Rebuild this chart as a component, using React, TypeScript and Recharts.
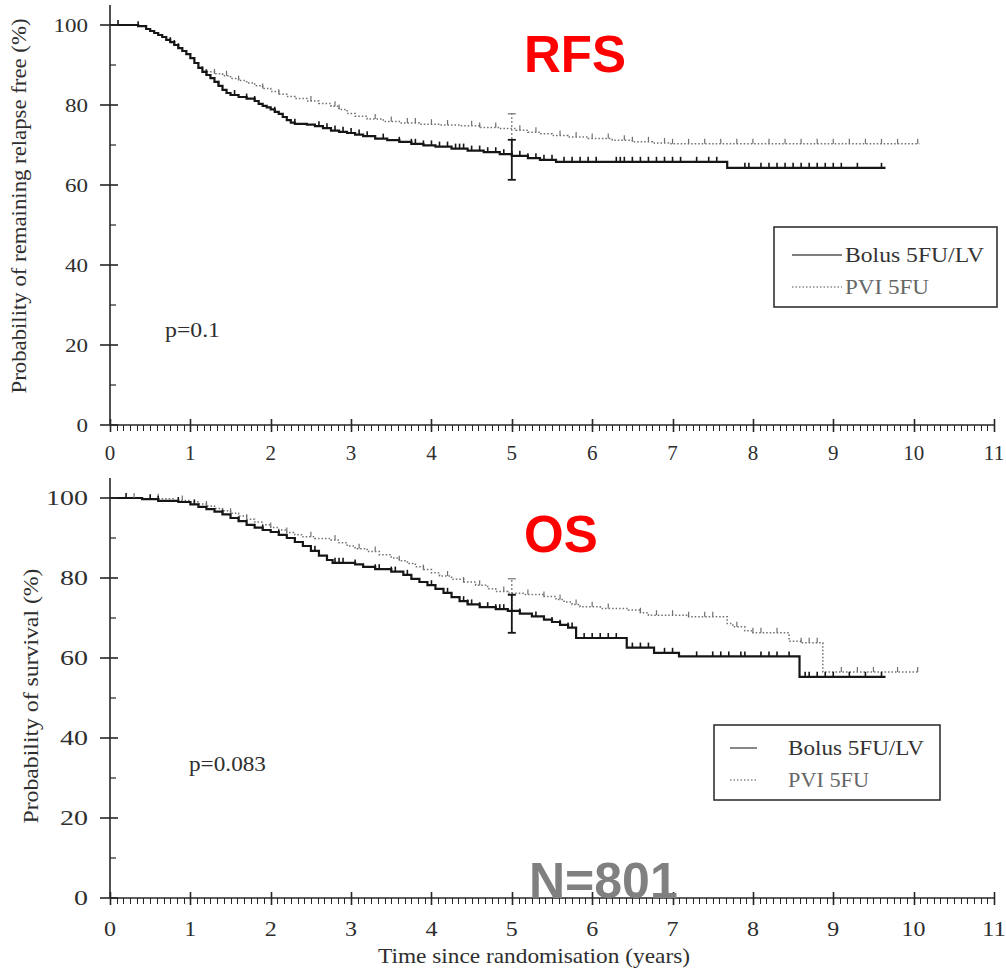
import React from 'react';
import { ComposedChart, Line, Scatter, XAxis, YAxis, ReferenceLine, Legend } from 'recharts';

// ---------- axis ticks ----------
const yearTicks = [0, 1, 2, 3, 4, 5, 6, 7, 8, 9, 10, 11];
const yMajorTicks = [0, 20, 40, 60, 80, 100];
const yMinorTicks = [10, 30, 50, 70, 90];
const monthsPerYear = 12;
const seriesNames = ['Bolus 5FU/LV', 'PVI 5FU'];

// ---------- RFS (relapse free survival) ----------
const rfsBolusT = [0, 0.35, 0.45, 0.5, 0.55, 0.6, 0.65, 0.7, 0.75, 0.8, 0.85, 0.9, 0.95, 1.0, 1.05, 1.1, 1.15, 1.2, 1.25, 1.3, 1.35, 1.4, 1.45, 1.5, 1.6, 1.7, 1.8, 1.85, 1.9, 1.95, 2.0, 2.05, 2.1, 2.15, 2.2, 2.25, 2.3, 2.45, 2.55, 2.65, 2.75, 2.85, 2.95, 3.05, 3.15, 3.3, 3.45, 3.6, 3.75, 3.9, 4.05, 4.25, 4.45, 4.65, 4.85, 5.0, 5.2, 5.35, 5.55, 7.68, 9.65];
const rfsBolusS = [100, 99.7, 99, 98.5, 98, 97.5, 97, 96.3, 95.7, 95, 94.2, 93.5, 92.7, 91.7, 90.5, 89.3, 88.3, 87.5, 86.7, 85.8, 84.8, 83.8, 83, 82.5, 82, 81.6, 81, 80.3, 79.8, 79.4, 78.9, 78.3, 77.8, 77, 76.2, 75.6, 75.3, 75.1, 74.7, 74.2, 73.6, 73.3, 73, 72.6, 72.2, 71.6, 71.2, 70.8, 70.3, 69.9, 69.6, 69.1, 68.6, 68.2, 67.7, 67.3, 66.7, 66.3, 65.8, 64.3, 64.3];
const rfsPviT = [0, 0.35, 0.45, 0.5, 0.55, 0.6, 0.65, 0.7, 0.75, 0.8, 0.85, 0.9, 0.95, 1.0, 1.05, 1.1, 1.15, 1.2, 1.3, 1.4, 1.5, 1.6, 1.7, 1.8, 1.9, 2.0, 2.1, 2.2, 2.3, 2.45, 2.6, 2.75, 2.85, 2.95, 3.05, 3.2, 3.4, 3.6, 3.85, 4.1, 4.35, 4.6, 4.85, 5.05, 5.2, 5.35, 5.5, 5.7, 5.95, 6.25, 6.5, 6.75, 6.95, 10.07];
const rfsPviS = [100, 99.7, 99, 98.5, 98, 97.5, 97, 96.3, 95.7, 95, 94.2, 93.5, 92.7, 91.7, 90.5, 89.5, 88.8, 88.3, 87.8, 87.3, 86.6, 86.1, 85.5, 84.8, 84.1, 83.4, 82.7, 82.1, 81.6, 81, 80.4, 79.7, 78.9, 77.9, 77.2, 76.5, 75.9, 75.5, 75.2, 75, 74.8, 74.4, 74.1, 73.7, 73.2, 72.8, 72.4, 72, 71.6, 71.2, 70.8, 70.5, 70.3, 70.3];
const rfsBolusCensor = [0.1, 0.35, 0.75, 0.8, 0.85, 1.2, 1.35, 1.55, 1.7, 1.8, 2.05, 2.3, 2.6, 2.7, 2.8, 2.9, 3.0, 3.1, 3.2, 3.4, 3.6, 3.75, 3.8, 3.9, 4.0, 4.1, 4.2, 4.3, 4.35, 4.4, 4.5, 4.6, 4.7, 4.8, 4.9, 5.0, 5.1, 5.2, 5.3, 5.4, 5.5, 5.65, 5.75, 5.85, 5.95, 6.05, 6.3, 6.35, 6.4, 6.5, 6.6, 6.7, 6.8, 6.9, 7.0, 7.1, 7.3, 7.45, 7.55, 7.9, 7.95, 8.1, 8.2, 8.3, 8.4, 8.5, 8.6, 8.7, 8.8, 8.9, 9.0, 9.1, 9.3, 9.6];
const rfsPviCensor = [1.3, 1.45, 1.6, 1.9, 2.1, 2.5, 2.8, 2.85, 3.3, 3.5, 3.7, 3.8, 4.0, 4.2, 4.5, 4.6, 4.8, 5.1, 5.3, 5.6, 5.8, 6.0, 6.2, 6.4, 6.5, 6.7, 6.9, 7.0, 7.2, 7.4, 7.6, 7.8, 8.0, 8.2, 8.4, 8.6, 8.8, 9.0, 9.2, 9.4, 9.6, 9.8, 10.05];
const rfsBolusCI = [61.3, 71.3];
const rfsPviCI = [69.5, 77.8];

// ---------- OS (overall survival) ----------
const osBolusT = [0, 0.4, 0.6, 0.85, 1.0, 1.1, 1.2, 1.3, 1.4, 1.5, 1.6, 1.7, 1.8, 1.9, 2.0, 2.1, 2.2, 2.3, 2.4, 2.5, 2.6, 2.7, 2.77, 3.05, 3.15, 3.3, 3.5, 3.65, 3.75, 3.85, 3.95, 4.05, 4.15, 4.25, 4.35, 4.45, 4.6, 4.8, 4.95, 5.1, 5.25, 5.4, 5.5, 5.6, 5.7, 5.8, 6.43, 6.77, 7.08, 8.58, 9.65];
const osBolusS = [100, 99.7, 99.3, 99, 98.4, 97.8, 97.2, 96.6, 95.9, 95, 94.2, 93.3, 92.6, 92, 91.5, 90.8, 90, 89, 88, 86.8, 85.6, 84.5, 83.8, 83.4, 82.8, 82.2, 81.6, 80.8, 79.8, 79, 78.2, 77.3, 76.3, 75.2, 74.2, 73.4, 72.7, 72.2, 71.8, 71.1, 70.4, 69.6, 69, 68.3, 67.6, 65, 62.6, 61.3, 60.4, 55.3, 55.3];
const osPviT = [0, 0.4, 0.8, 1.0, 1.1, 1.2, 1.3, 1.4, 1.5, 1.6, 1.7, 1.8, 1.9, 2.0, 2.1, 2.2, 2.3, 2.4, 2.55, 2.75, 2.85, 2.95, 3.05, 3.2, 3.35, 3.5, 3.6, 3.7, 3.8, 3.9, 4.0, 4.1, 4.25, 4.4, 4.55, 4.7, 4.8, 4.95, 5.15, 5.4, 5.55, 5.65, 5.75, 5.85, 6.1, 6.45, 6.6, 6.7, 7.2, 7.68, 7.75, 7.9, 8.0, 8.45, 8.6, 8.87, 10.07];
const osPviS = [100, 99.8, 99.4, 99, 98.5, 98, 97.4, 96.8, 96.2, 95.5, 94.7, 94, 93.3, 92.6, 92, 91.4, 90.8, 90.3, 89.9, 89.5, 88.8, 88, 87.3, 86.6, 85.8, 85, 84.3, 83.6, 82.8, 82.1, 81.3, 80.5, 79.7, 79, 78.2, 77.3, 76.6, 76.2, 75.9, 75.4, 74.6, 74, 73.4, 72.8, 72.4, 72, 71.3, 70.7, 70.3, 68.6, 67.8, 66.8, 66.3, 64.2, 63.8, 56.5, 56.5];
const osBolusCensor = [0.2, 0.5, 0.6, 0.85, 1.05, 1.4, 1.6, 1.9, 2.1, 2.3, 2.55, 2.8, 2.85, 2.9, 3.05, 3.3, 3.35, 3.5, 3.55, 3.7, 4.0, 4.2, 4.4, 4.45, 4.5, 4.6, 4.7, 4.8, 4.85, 4.9, 5.1, 5.3, 5.5, 5.6, 5.7, 5.75, 5.9, 6.0, 6.1, 6.2, 6.3, 6.5, 6.6, 6.7, 6.9, 7.0, 7.3, 7.5, 7.6, 7.7, 7.85, 7.9, 8.1, 8.2, 8.3, 8.45, 8.65, 8.7, 8.8, 8.9, 9.0, 9.2, 9.4, 9.6];
const osPviCensor = [0.3, 0.6, 0.9, 1.2, 1.5, 1.7, 2.0, 2.2, 2.5, 2.8, 3.1, 3.3, 3.6, 3.9, 4.2, 4.4, 4.6, 4.9, 5.2, 5.4, 5.6, 5.8, 6.0, 6.2, 6.6, 6.8, 7.0, 7.2, 7.4, 7.5, 7.8, 8.0, 8.1, 8.3, 8.6, 8.7, 8.8, 9.1, 9.3, 9.5, 9.8, 10.05];
const osBolusCI = [66.3, 75.8];
const osPviCI = [72.0, 79.8];

const ciTime = 5;

// ---------- helpers ----------
const toSteps = (t: number[], s: number[]) => t.map((x, i) => ({ t: x, s: s[i] }));
const stepValue = (t: number[], s: number[], x: number) => {
  let v = s[0];
  for (let i = 0; i < t.length; i++) if (t[i] <= x) v = s[i];
  return v;
};
const censorPoints = (times: number[], t: number[], s: number[]) => times.map((x) => ({ t: x, s: stepValue(t, s, x) }));

const xTicks: number[] = [];
yearTicks.forEach((y, i) => {
  xTicks.push(y);
  if (i < yearTicks.length - 1) for (let m = 1; m < monthsPerYear; m++) xTicks.push(y + m / monthsPerYear);
});
const yTicks = [...yMajorTicks, ...yMinorTicks].sort((a, b) => a - b);

const AXIS = '#262626';
const TEXT = '#2e2e2e';
const BOLUS = '#161616';
const PVI = '#707070';
const SERIF = 'Liberation Serif, Times New Roman, Times, serif';
const SANS = 'Liberation Sans, Arial, Helvetica, sans-serif';

type TickStyle = { xFont: number; xDy: number; xCharW: number; yFont: number; yCharW: number };

const XTick = (props: any) => {
  const { x, y, payload, st } = props;
  const v = payload.value;
  const major = Math.abs(v - Math.round(v)) < 1e-6;
  const cx = Math.round(x) + 0.5;
  if (!major) return <line x1={cx} x2={cx} y1={y} y2={y + 6} stroke={AXIS} strokeWidth={1} />;
  const label = String(Math.round(v));
  return (
    <g>
      <line x1={cx} x2={cx} y1={y - 6} y2={y + 7} stroke={AXIS} strokeWidth={1.6} />
      <text x={x} y={y + st.xDy} textAnchor="middle" fontFamily={SERIF} fontSize={st.xFont} fill={TEXT}
        textLength={label.length * st.xCharW} lengthAdjust="spacingAndGlyphs">{label}</text>
    </g>
  );
};

const YTick = (props: any) => {
  const { x, y, payload, st } = props;
  const v = payload.value;
  const major = v % 20 === 0;
  if (!major) return <line x1={x} x2={x + 6} y1={y} y2={y} stroke={AXIS} strokeWidth={1.2} />;
  const label = String(v);
  return (
    <g>
      <line x1={x - 10} x2={x + 8} y1={y} y2={y} stroke={AXIS} strokeWidth={1.6} />
      <text x={x - 22} y={y + 7} textAnchor="end" fontFamily={SERIF} fontSize={st.yFont} fill={TEXT}
        textLength={label.length * st.yCharW} lengthAdjust="spacingAndGlyphs">{label}</text>
    </g>
  );
};

const CensorTick = (color: string, w: number) => (props: any) => {
  const { cx, cy } = props;
  return <line x1={cx} x2={cx} y1={cy} y2={cy - 5} stroke={color} strokeWidth={w} />;
};

type LegendGeom = {
  left: number; top: number; w: number; h: number;
  lineX1: number; lineX2: number; textX: number;
  y1: number; y2: number; len1: number; len2: number; font: number;
};

const LegendBox = ({ g }: { g: LegendGeom }) => (
  <svg width={g.w} height={g.h} style={{ display: 'block' }}>
    <rect x={1} y={1} width={g.w - 2} height={g.h - 2} fill="#fff" stroke="#333" strokeWidth={1.6} />
    <line x1={g.lineX1} x2={g.lineX2} y1={g.y1} y2={g.y1} stroke="#555" strokeWidth={1.4} />
    <text x={g.textX} y={g.y1 + 7} fontFamily={SERIF} fontSize={g.font} fill="#333"
      textLength={g.len1} lengthAdjust="spacingAndGlyphs">{seriesNames[0]}</text>
    <line x1={g.lineX1} x2={g.lineX2} y1={g.y2} y2={g.y2} stroke="#888" strokeWidth={1.3} strokeDasharray="1.5 2" />
    <text x={g.textX} y={g.y2 + 7} fontFamily={SERIF} fontSize={g.font} fill="#666"
      textLength={g.len2} lengthAdjust="spacingAndGlyphs">{seriesNames[1]}</text>
  </svg>
);

type PanelProps = {
  top: number; height: number; marginTop: number; marginBottom: number; xAxisHeight: number;
  bT: number[]; bS: number[]; pT: number[]; pS: number[];
  bCensor: number[]; pCensor: number[]; bCI: number[]; pCI: number[];
  st: TickStyle; legend: LegendGeom;
};

const Panel = (p: PanelProps) => {
  const bolusData = toSteps(p.bT, p.bS);
  const pviData = toSteps(p.pT, p.pS);
  const bCens = censorPoints(p.bCensor, p.bT, p.bS);
  const pCens = censorPoints(p.pCensor, p.pT, p.pS);
  const cap = 0.05;
  return (
    <div style={{ position: 'absolute', left: 0, top: p.top, width: 1006, height: p.height }}>
      <ComposedChart width={1006} height={p.height} margin={{ top: p.marginTop, right: 12, bottom: p.marginBottom, left: 0 }}>
        <XAxis type="number" dataKey="t" domain={[0, 11]} ticks={xTicks} interval={0} tickSize={0} tickMargin={0}
          tickLine={false} height={p.xAxisHeight} allowDataOverflow
          axisLine={{ stroke: AXIS, strokeWidth: 1.6 }} tick={(tp: any) => <XTick {...tp} st={p.st} />} />
        <YAxis type="number" dataKey="s" domain={[0, 105]} ticks={yTicks} interval={0} width={110} tickSize={0}
          tickMargin={0} tickLine={false} allowDataOverflow
          axisLine={{ stroke: AXIS, strokeWidth: 1.6 }} tick={(tp: any) => <YTick {...tp} st={p.st} />} />
        <Line data={pviData} dataKey="s" type="stepAfter" stroke={PVI} strokeWidth={1.5} strokeDasharray="1.5 2"
          dot={false} isAnimationActive={false} name={seriesNames[1]} />
        <Line data={bolusData} dataKey="s" type="stepAfter" stroke={BOLUS} strokeWidth={2.2}
          dot={false} isAnimationActive={false} name={seriesNames[0]} />
        <Scatter data={pCens} dataKey="s" shape={CensorTick(PVI, 1.2)} isAnimationActive={false} legendType="none" />
        <Scatter data={bCens} dataKey="s" shape={CensorTick(BOLUS, 1.6)} isAnimationActive={false} legendType="none" />
        <ReferenceLine segment={[{ x: ciTime, y: p.pCI[0] }, { x: ciTime, y: p.pCI[1] }]} stroke={PVI} strokeWidth={1.2} strokeDasharray="2 2" />
        <ReferenceLine segment={[{ x: ciTime - cap, y: p.pCI[1] }, { x: ciTime + cap, y: p.pCI[1] }]} stroke={PVI} strokeWidth={1.2} />
        <ReferenceLine segment={[{ x: ciTime, y: p.bCI[0] }, { x: ciTime, y: p.bCI[1] }]} stroke={BOLUS} strokeWidth={1.8} />
        <ReferenceLine segment={[{ x: ciTime - cap, y: p.bCI[0] }, { x: ciTime + cap, y: p.bCI[0] }]} stroke={BOLUS} strokeWidth={1.8} />
        <ReferenceLine segment={[{ x: ciTime - cap, y: p.bCI[1] }, { x: ciTime + cap, y: p.bCI[1] }]} stroke={BOLUS} strokeWidth={1.8} />
        <Legend layout="horizontal" verticalAlign="middle" align="center"
          wrapperStyle={{ left: p.legend.left, top: p.legend.top, width: p.legend.w, height: p.legend.h }}
          content={() => <LegendBox g={p.legend} />} />
      </ComposedChart>
    </div>
  );
};

export default function App() {
  return (
    <div style={{ position: 'absolute', left: 0, top: 0, width: 1006, height: 971, background: '#fff', overflow: 'hidden' }}>
      <Panel top={0} height={465} marginTop={5} marginBottom={0} xAxisHeight={40}
        bT={rfsBolusT} bS={rfsBolusS} pT={rfsPviT} pS={rfsPviS}
        bCensor={rfsBolusCensor} pCensor={rfsPviCensor} bCI={rfsBolusCI} pCI={rfsPviCI}
        st={{ xFont: 22, xDy: 35, xCharW: 10.5, yFont: 19, yCharW: 11.5 }}
        legend={{ left: 773, top: 226, w: 225, h: 82, lineX1: 19, lineX2: 69, textX: 72, y1: 29, y2: 61, len1: 139, len2: 84, font: 22 }} />
      <Panel top={470} height={501} marginTop={8} marginBottom={13} xAxisHeight={60}
        bT={osBolusT} bS={osBolusS} pT={osPviT} pS={osPviS}
        bCensor={osBolusCensor} pCensor={osPviCensor} bCI={osBolusCI} pCI={osPviCI}
        st={{ xFont: 22, xDy: 38, xCharW: 12, yFont: 22, yCharW: 14 }}
        legend={{ left: 713, top: 254, w: 228, h: 77, lineX1: 17, lineX2: 44, textX: 75, y1: 24, y2: 56, len1: 136, len2: 81, font: 22 }} />
      <svg width={1006} height={971} style={{ position: 'absolute', left: 0, top: 0, pointerEvents: 'none' }}>
        <text x={26} y={206} transform="rotate(-90 26 206)" textAnchor="middle" fontFamily={SERIF} fontSize={20} fill={TEXT}
          textLength={375} lengthAdjust="spacingAndGlyphs">Probability of remaining relapse free (%)</text>
        <text x={38} y={696} transform="rotate(-90 38 696)" textAnchor="middle" fontFamily={SERIF} fontSize={20} fill={TEXT}
          textLength={255} lengthAdjust="spacingAndGlyphs">Probability of survival (%)</text>
        <text x={534} y={963} textAnchor="middle" fontFamily={SERIF} fontSize={22} fill={TEXT}
          textLength={312} lengthAdjust="spacingAndGlyphs">Time since randomisation (years)</text>
        <text x={165} y={337} fontFamily={SERIF} fontSize={21} fill={TEXT} textLength={55} lengthAdjust="spacingAndGlyphs">p=0.1</text>
        <text x={189} y={771} fontFamily={SERIF} fontSize={22} fill={TEXT} textLength={77} lengthAdjust="spacingAndGlyphs">p=0.083</text>
        <text x={524} y={72} fontFamily={SANS} fontWeight="bold" fontSize={51} fill="#ff0000">RFS</text>
        <text x={524} y={552} fontFamily={SANS} fontWeight="bold" fontSize={51} fill="#ff0000">OS</text>
        <text x={529} y={898} fontFamily={SANS} fontWeight="bold" fontSize={50} fill="#808080">N=801</text>
      </svg>
    </div>
  );
}
